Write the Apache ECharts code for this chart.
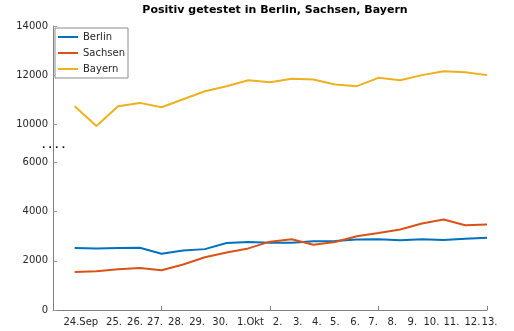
<!DOCTYPE html>
<html>
<head>
<meta charset="utf-8">
<script src="https://cdn.jsdelivr.net/npm/echarts@6/dist/echarts.min.js"></script>
<style>html,body{margin:0;padding:0;background:#fff}#c{width:514px;height:331px}</style>
</head>
<body>
<div id="c"></div>
<script>
var categories = ['24.Sep','25.','26.','27.','28.','29.','30.','1.Okt','2.','3.','4.','5.','6.','7.','8.','9.','10.','11.','12.','13.'];
var labelPositions = [0.28, 1.81, 2.78, 3.70, 4.67, 5.64, 6.71, 8.10, 9.35, 10.28, 11.16, 11.99, 12.92, 13.75, 14.63, 15.56, 16.44, 17.36, 18.33, 19.0];
var xTicks = [4, 9, 14, 19];
var yTicks = [0, 2000, 4000, 6000, 10000, 12000, 14000];
var berlin = [2520, 2507, 2520, 2535, 2290, 2425, 2478, 2725, 2766, 2740, 2740, 2795, 2808, 2865, 2877, 2836, 2877, 2850, 2905, 2945];
var sachsen = [1548, 1575, 1657, 1712, 1616, 1850, 2150, 2343, 2507, 2782, 2877, 2659, 2766, 3000, 3136, 3276, 3522, 3687, 3452, 3481];
var bayern = [10734, 9820, 10734, 10870, 10694, 11020, 11346, 11550, 11795, 11714, 11850, 11824, 11620, 11550, 11890, 11795, 12000, 12160, 12120, 12000];

function pairs(arr){ return arr.map(function(v,i){ return [i, v]; }); }

var chart = echarts.init(document.getElementById('c'), null, {renderer:'canvas'});
var font = 'DejaVu Sans';
chart.setOption({
  animation: false,
  textStyle: {fontFamily: font},
  title: {
    text: 'Positiv getestet in Berlin, Sachsen, Bayern',
    left: 270, top: 0, textAlign: 'center',
    textStyle: {fontFamily: font, fontSize: 11, fontWeight: 'bold', color: '#000'}
  },
  legend: {
    orient: 'vertical', left: 55, top: 28,
    data: ['Berlin','Sachsen','Bayern'],
    icon: 'rect', itemWidth: 20, itemHeight: 2, itemGap: 6,
    padding: [4, 3, 4, 3],
    borderColor: '#8c8c8c', borderWidth: 1, backgroundColor: '#fff',
    textStyle: {fontFamily: font, fontSize: 10, color: '#262626'}
  },
  grid: {left: 53, right: 27, top: 26, bottom: 21, containLabel: false},
  xAxis: {
    type: 'value', min: -1, max: 19,
    axisLine: {show: true, onZero: false, lineStyle: {color: '#808080'}},
    axisTick: {show: true, inside: true, length: 4, customValues: xTicks, lineStyle: {color: '#808080'}},
    axisLabel: {
      customValues: labelPositions, margin: 7,
      fontFamily: font, fontSize: 10, color: '#262626',
      formatter: function(v){
        var best = 0, d = 1e9;
        for (var i=0;i<labelPositions.length;i++){ var dd=Math.abs(labelPositions[i]-v); if(dd<d){d=dd;best=i;} }
        if (best === labelPositions.length - 1) return '{last|' + categories[best] + '}';
        return categories[best];
      },
      rich: {last: {fontFamily: font, fontSize: 10, color: '#262626', padding: [0, 0, 0, 5]}}
    },
    splitLine: {show: false}
  },
  yAxis: [{
    type: 'value', min: 0, max: 14000, interval: 2000,
    breaks: [{start: 6000, end: 10000, gap: '13.5%'}],
    breakArea: {show: false},
    axisLine: {show: true, onZero: false, lineStyle: {color: '#808080'}},
    axisTick: {show: true, inside: true, length: 4, customValues: yTicks, lineStyle: {color: '#999', width: 1}},
    axisLabel: {fontFamily: font, fontSize: 10, color: '#262626', margin: 5,
      formatter: function(v){ return String(v); }},
    splitLine: {show: false}
  }, {
    type: 'value', min: 0, max: 14000, position: 'left',
    axisLine: {show: true, onZero: false, lineStyle: {color: '#808080'}},
    axisTick: {show: false}, axisLabel: {show: false}, splitLine: {show: false}
  }],
  graphic: [{
    type: 'text', left: 42, top: 141,
    style: {text: '. . . .', fontFamily: font, fontSize: 9, fontWeight: 'bold', fill: '#000'}
  }],
  series: [
    {name: 'Berlin', type: 'line', data: pairs(berlin), showSymbol: false, color: '#0072BD', lineStyle: {width: 2}},
    {name: 'Sachsen', type: 'line', data: pairs(sachsen), showSymbol: false, color: '#D95319', lineStyle: {width: 2}},
    {name: 'Bayern', type: 'line', data: pairs(bayern), showSymbol: false, color: '#EDB120', lineStyle: {width: 2}}
  ]
});
</script>
</body>
</html>
